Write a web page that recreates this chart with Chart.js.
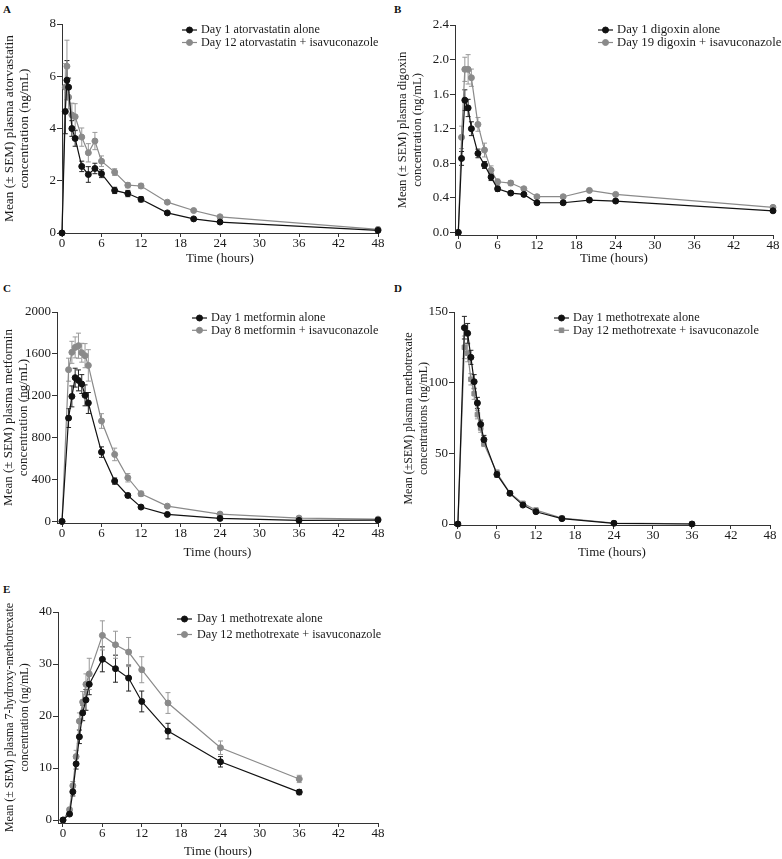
<!DOCTYPE html>
<html>
<head>
<meta charset="utf-8">
<script src="https://cdn.jsdelivr.net/npm/chart.js@4.4.0/dist/chart.umd.min.js"></script>
<style>
  body { margin: 0; background: #fff; width: 782px; height: 859px; position: relative; overflow: hidden; }
  canvas { position: absolute; }
  .lbl { position: absolute; font: bold 11px "Liberation Serif", serif; color: #111; }
</style>
</head>
<body>
<div class="lbl" style="left:3px;top:3px">A</div>
<div class="lbl" style="left:394px;top:3px">B</div>
<div class="lbl" style="left:3px;top:282px">C</div>
<div class="lbl" style="left:394px;top:282px">D</div>
<div class="lbl" style="left:3px;top:583px">E</div>

<canvas id="cA" width="391" height="275" style="left:0;top:0"></canvas>
<canvas id="cB" width="391" height="275" style="left:391px;top:0"></canvas>
<canvas id="cC" width="391" height="290" style="left:0;top:275px"></canvas>
<canvas id="cD" width="391" height="290" style="left:391px;top:275px"></canvas>
<canvas id="cE" width="391" height="284" style="left:0;top:575px"></canvas>

<script>
// time axis
const xTicks = [0, 6, 12, 18, 24, 30, 36, 42, 48];

// A: atorvastatin
const timesA = [0, 0.5, 0.75, 1, 1.5, 2, 3, 4, 5, 6, 8, 10, 12, 16, 20, 24, 48];
const atorAlone = [0, 4.65, 5.85, 5.58, 4.0, 3.62, 2.55, 2.24, 2.47, 2.27, 1.63, 1.51, 1.29, 0.77, 0.54, 0.42, 0.1];
const atorAloneSem = [0, 0.85, 0.75, 0.35, 0.3, 0.3, 0.2, 0.3, 0.2, 0.15, 0.12, 0.12, 0.1, 0.05, 0.04, 0.04, 0.03];
const atorIsa = [0, 5.58, 6.38, 5.2, 4.52, 4.45, 3.67, 3.07, 3.52, 2.75, 2.33, 1.83, 1.8, 1.18, 0.86, 0.62, 0.14];
const atorIsaSem = [0, 0.9, 1.0, 0.45, 0.45, 0.5, 0.35, 0.35, 0.33, 0.2, 0.13, 0.1, 0.1, 0.06, 0.05, 0.04, 0.03];
const yTicksA = [0, 2, 4, 6, 8];

// B: digoxin
const timesB = [0, 0.5, 1, 1.5, 2, 3, 4, 5, 6, 8, 10, 12, 16, 20, 24, 48];
const digAlone = [0, 0.856, 1.53, 1.44, 1.2, 0.914, 0.78, 0.64, 0.505, 0.455, 0.44, 0.343, 0.343, 0.374, 0.363, 0.25];
const digAloneSem = [0, 0.08, 0.12, 0.1, 0.08, 0.05, 0.04, 0.04, 0.03, 0.02, 0.02, 0.02, 0.02, 0.02, 0.02, 0.02];
const digIsa = [0, 1.1, 1.887, 1.887, 1.79, 1.25, 0.953, 0.72, 0.586, 0.571, 0.505, 0.413, 0.413, 0.486, 0.44, 0.29];
const digIsaSem = [0, 0.13, 0.14, 0.17, 0.1, 0.08, 0.08, 0.05, 0.03, 0.03, 0.02, 0.02, 0.02, 0.02, 0.02, 0.02];
const yTicksB = [0, 0.4, 0.8, 1.2, 1.6, 2.0, 2.4];

// C: metformin
const timesC = [0, 1, 1.5, 2, 2.5, 3, 3.5, 4, 6, 8, 10, 12, 16, 24, 36, 48];
const metAlone = [0, 987, 1194, 1373, 1347, 1312, 1204, 1131, 662, 385, 248, 137, 67, 29, 10, 13];
const metAloneSem = [0, 90, 100, 90, 100, 90, 100, 100, 50, 30, 20, 15, 8, 5, 3, 3];
const metIsa = [0, 1449, 1615, 1662, 1678, 1611, 1583, 1490, 959, 640, 417, 264, 146, 70, 32, 22];
const metIsaSem = [0, 110, 105, 100, 120, 90, 115, 150, 70, 60, 40, 25, 12, 8, 5, 4];
const yTicksC = [0, 400, 800, 1200, 1600, 2000];

// D: methotrexate
const timesD = [0, 1, 1.5, 2, 2.5, 3, 3.5, 4, 6, 8, 10, 12, 16, 24, 36];
const mtxAlone = [0, 138.9, 134.9, 117.9, 100.7, 85.6, 70.5, 59.7, 35.1, 21.7, 13.4, 8.7, 3.8, 0.5, 0];
const mtxAloneSem = [0, 8, 7, 5, 5, 4, 3, 3, 2, 1.5, 1, 1, 0.8, 0.3, 0.1];
const mtxIsa = [0, 125, 120.8, 102.4, 92.2, 77.4, 67.9, 56.8, 36.3, 21.9, 14.6, 9.9, 4.2, 0.7, 0.1];
const mtxIsaSem = [0, 8, 6, 4, 4, 3, 3, 2, 2, 1.5, 1, 1, 0.8, 0.3, 0.1];
const yTicksD = [0, 50, 100, 150];

// E: 7-hydroxy-methotrexate
const timesE = [0, 1, 1.5, 2, 2.5, 3, 3.5, 4, 6, 8, 10, 12, 16, 24, 36];
const ohAlone = [0, 1.15, 5.43, 10.8, 16.0, 20.6, 23.1, 26.1, 30.9, 29.1, 27.3, 22.8, 17.1, 11.2, 5.37];
const ohAloneSem = [0, 0.3, 0.8, 1.0, 1.3, 1.5, 2, 2, 2.4, 2.6, 2.5, 2.0, 1.5, 1.0, 0.5];
const ohIsa = [0, 2.0, 6.6, 12.2, 19.0, 22.7, 26.1, 28.1, 35.5, 33.7, 32.3, 28.9, 22.5, 13.9, 7.9];
const ohIsaSem = [0, 0.4, 0.8, 1.2, 1.6, 2, 2, 3, 2.8, 2.6, 2.8, 2.5, 2.0, 1.3, 0.7];
const yTicksE = [0, 10, 20, 30, 40];

const SERIF = '"Liberation Serif", "Times New Roman", serif';
const INK = '#1a1a1a';
const BLACK = '#111111';
const GREY = '#8a8a8a';

// vertical SEM bars, drawn under the points
const errorBars = {
  id: 'errorBars',
  beforeDatasetsDraw(chart) {
    const ctx = chart.ctx;
    const ys = chart.scales.y;
    ctx.save();
    chart.data.datasets.forEach((ds, i) => {
      const meta = chart.getDatasetMeta(i);
      ctx.strokeStyle = ds.errColor;
      ctx.lineWidth = 1;
      meta.data.forEach((pt, j) => {
        const e = ds.err[j];
        if (!e) return;
        const v = ds.data[j].y;
        const top = ys.getPixelForValue(v + e);
        const bot = ys.getPixelForValue(Math.max(v - e, 0));
        ctx.beginPath();
        ctx.moveTo(pt.x, top); ctx.lineTo(pt.x, bot);
        ctx.moveTo(pt.x - 2.5, top); ctx.lineTo(pt.x + 2.5, top);
        ctx.moveTo(pt.x - 2.5, bot); ctx.lineTo(pt.x + 2.5, bot);
        ctx.stroke();
      });
    });
    ctx.restore();
  }
};

// legend: short line with marker, then label
const lineLegend = {
  id: 'lineLegend',
  afterDraw(chart, args, opts) {
    const ctx = chart.ctx;
    ctx.save();
    ctx.font = opts.size + 'px ' + SERIF;
    ctx.textBaseline = 'middle';
    chart.data.datasets.forEach((ds, i) => {
      const y = opts.y + i * opts.rowGap;
      ctx.strokeStyle = ds.borderColor;
      ctx.lineWidth = ds.borderWidth;
      ctx.beginPath();
      ctx.moveTo(opts.x, y); ctx.lineTo(opts.x + opts.lineLen, y);
      ctx.stroke();
      ctx.fillStyle = ds.backgroundColor;
      ctx.lineWidth = 1;
      Chart.helpers.drawPoint(ctx, { pointStyle: ds.pointStyle, radius: ds.pointRadius, borderWidth: 1, rotation: 0 },
        opts.x + opts.lineLen / 2, y);
      ctx.fillStyle = INK;
      ctx.fillText(ds.label, opts.x + opts.lineLen + opts.gap, y);
    });
    ctx.restore();
  }
};

function series(label, xs, ys, err, color, errColor, style) {
  return {
    label: label,
    data: xs.map((t, i) => ({ x: t, y: ys[i] })),
    err: err,
    errColor: errColor,
    borderColor: color,
    backgroundColor: color,
    borderWidth: 1.2,
    pointStyle: style,
    pointRadius: style === 'rect' ? 3.2 : 3,
    pointBorderWidth: 1,
    tension: 0,
    clip: false
  };
}

function panel(id, o) {
  const font = { family: SERIF, size: 13 };
  return new Chart(document.getElementById(id), {
    type: 'line',
    data: {
      datasets: [
        series(o.names[0], o.times, o.y1, o.e1, BLACK, '#222', 'circle'),
        series(o.names[1], o.times, o.y2, o.e2, GREY, '#999', o.style2 || 'circle')
      ]
    },
    options: {
      responsive: false,
      animation: false,
      devicePixelRatio: 1,
      layout: { padding: { left: 0, top: o.top, right: o.right, bottom: 0 } },
      plugins: { legend: { display: false }, tooltip: { enabled: false }, lineLegend: o.legend },
      scales: {
        x: {
          type: 'linear', min: o.xmin, max: 48,
          afterBuildTicks: s => { s.ticks = xTicks.map(v => ({ value: v })); },
          afterFit: s => { s.height = o.xh; },
          grid: { drawOnChartArea: false, tickLength: 4, color: '#333' },
          border: { color: '#333', width: 1 },
          ticks: { font: font, color: INK, padding: -1, maxRotation: 0 },
          title: { display: true, text: 'Time (hours)', font: font, color: INK, padding: { top: 0, bottom: o.xtb } }
        },
        y: {
          min: o.ymin, max: o.ymax,
          afterBuildTicks: s => { s.ticks = o.yTicks.map(v => ({ value: v })); },
          afterFit: s => { s.width = o.left; },
          grid: { drawOnChartArea: false, tickLength: 5, color: '#333' },
          border: { color: '#333', width: 1 },
          ticks: { font: font, color: INK, padding: 1, callback: o.fmt || (v => v) },
          title: { display: true, text: o.ytitle, font: { family: SERIF, size: o.ts, lineHeight: '15px' }, color: INK, padding: { top: o.ytp, bottom: 0 } }
        }
      }
    },
    plugins: [errorBars, lineLegend]
  });
}

panel('cA', {
  times: timesA, y1: atorAlone, e1: atorAloneSem, y2: atorIsa, e2: atorIsaSem,
  names: ['Day 1 atorvastatin alone', 'Day 12 atorvastatin + isavuconazole'],
  ytitle: ['Mean (\u00b1 SEM) plasma atorvastatin', 'concentration (ng/mL)'],
  yTicks: yTicksA, ymin: 0, ymax: 8, xmin: 0, ts: 13.3,
  left: 62, right: 13, top: 24, xh: 42, xtb: 9, ytp: 2.5,
  legend: { x: 182, y: 30, rowGap: 12.5, lineLen: 15, gap: 4, size: 12.2 }
});

panel('cB', {
  times: timesB, y1: digAlone, e1: digAloneSem, y2: digIsa, e2: digIsaSem,
  names: ['Day 1 digoxin alone', 'Day 19 digoxin + isavuconazole'],
  ytitle: ['Mean (\u00b1 SEM) plasma digoxin', 'concentration (ng/mL)'],
  yTicks: yTicksB, ymin: -0.03, ymax: 2.4, xmin: -0.5, fmt: v => v.toFixed(1), ts: 12.6,
  left: 64, right: 9, top: 25, xh: 40, xtb: 9, ytp: 4.5,
  legend: { x: 207, y: 30, rowGap: 12.5, lineLen: 15, gap: 4, size: 12.7 }
});

panel('cC', {
  times: timesC, y1: metAlone, e1: metAloneSem, y2: metIsa, e2: metIsaSem,
  names: ['Day 1 metformin alone', 'Day 8 metformin + isavuconazole'],
  ytitle: ['Mean (\u00b1 SEM) plasma metformin', 'concentration (ng/mL)'],
  yTicks: yTicksC, ymin: -15, ymax: 2000, xmin: -0.76, ts: 13,
  left: 57, right: 13, top: 37, xh: 42, xtb: 5, ytp: 1.5,
  legend: { x: 192, y: 43, rowGap: 12.3, lineLen: 15, gap: 4, size: 12.3 }
});

panel('cD', {
  times: timesD, y1: mtxAlone, e1: mtxAloneSem, y2: mtxIsa, e2: mtxIsaSem, style2: 'rect',
  names: ['Day 1 methotrexate alone', 'Day 12 methotrexate + isavuconazole'],
  ytitle: ['Mean (\u00b1SEM) plasma methotrexate', 'concentrations (ng/mL)'],
  yTicks: yTicksD, ymin: -0.7, ymax: 150, xmin: -0.6, ts: 12,
  left: 63, right: 12, top: 37, xh: 40, xtb: 5, ytp: 10.5,
  legend: { x: 163, y: 43, rowGap: 12.3, lineLen: 15, gap: 4, size: 12.3 }
});

panel('cE', {
  times: timesE, y1: ohAlone, e1: ohAloneSem, y2: ohIsa, e2: ohIsaSem,
  names: ['Day 1 methotrexate alone', 'Day 12 methotrexate + isavuconazole'],
  ytitle: ['Mean (\u00b1 SEM) plasma 7-hydroxy-methotrexate', 'concentration (ng/mL)'],
  yTicks: yTicksE, ymin: -0.57, ymax: 40, xmin: -0.76, ts: 12,
  left: 58, right: 13, top: 37, xh: 36, xtb: 0, ytp: 2,
  legend: { x: 177, y: 44, rowGap: 15.5, lineLen: 15, gap: 5, size: 12.2 }
});
</script>
</body>
</html>
